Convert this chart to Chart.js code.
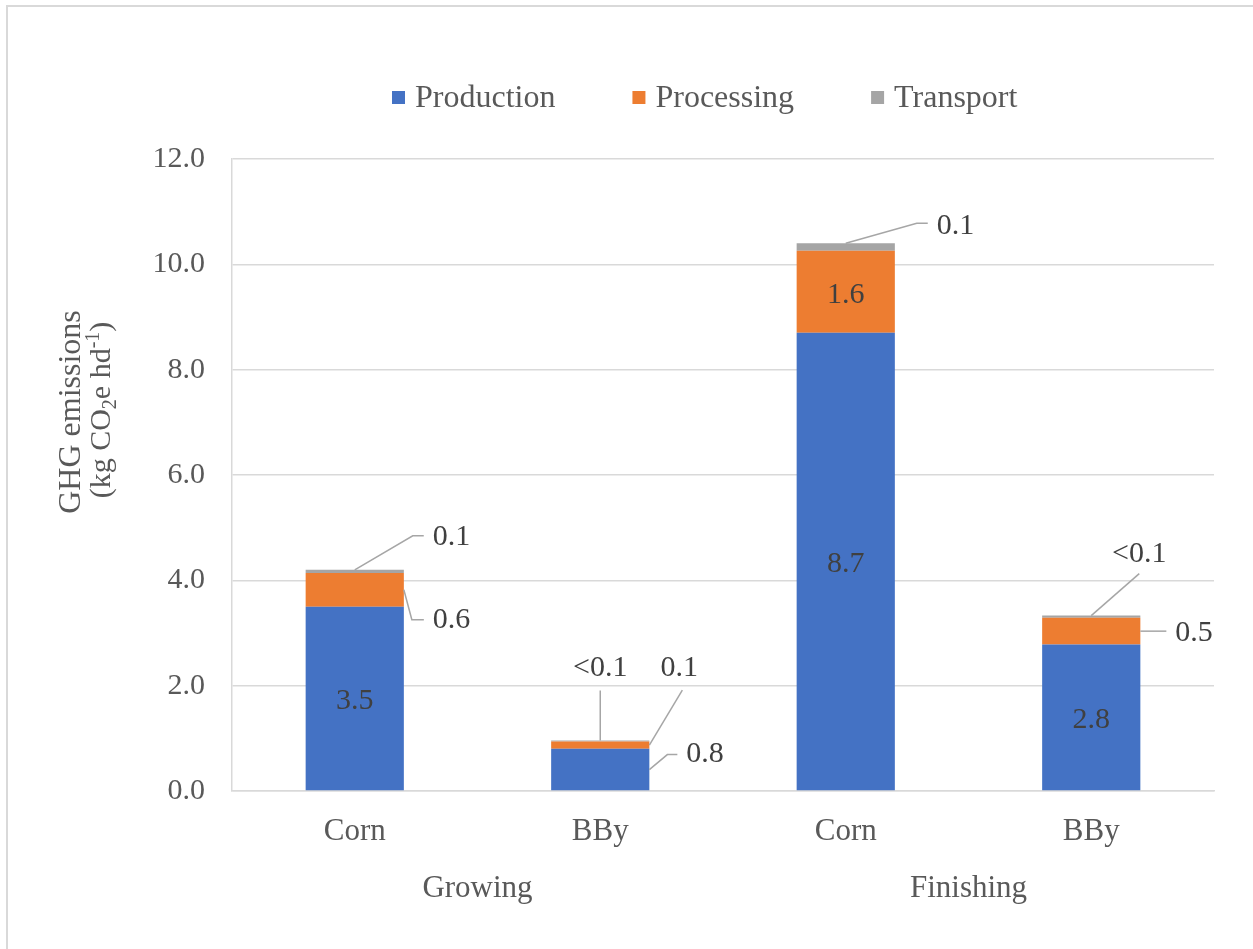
<!DOCTYPE html>
<html>
<head>
<meta charset="utf-8">
<script src="https://cdn.jsdelivr.net/npm/chart.js@4/dist/chart.umd.min.js"></script>
<style>
  html, body { margin: 0; padding: 0; background: #ffffff; }
  #wrap { width: 1253px; height: 949px; position: relative; }
</style>
</head>
<body>
<div id="wrap"><canvas id="chart" width="1253" height="949"></canvas></div>
<script>
// ---- data ----
const categories = ['Corn', 'BBy', 'Corn', 'BBy'];
const stages = ['Growing', 'Finishing'];          // each stage spans two categories
const seriesNames = ['Production', 'Processing', 'Transport'];
const production = [3.5, 0.8, 8.7, 2.78];
const processing = [0.64, 0.14, 1.56, 0.51];
const transport = [0.06, 0.02, 0.14, 0.04];
const yTickValues = [0, 2, 4, 6, 8, 10, 12];

// ---- styling ----
const SERIF = '"Liberation Serif", "Times New Roman", serif';
const colors = ['#4472C4', '#ED7D31', '#A5A5A5'];
const axisText = '#595959';
const labelText = '#404040';
const gridColor = '#d9d9d9';
const leaderColor = '#a6a6a6';

// Where each value label goes: 'center' sits inside its segment; otherwise a
// leader line runs from an anchor on the segment ('top' = top centre,
// 'right' = right edge middle) through the listed offsets to the text.
const labelPlacement = [
  // Production
  ['center',
   { anchor: 'right', path: [[18, -15], [28, -15]], text: [37, -15], align: 'left' },
   'center', 'center'],
  // Processing
  [{ anchor: 'right', path: [[8, 30], [20, 30]], text: [29, 30], align: 'left' },
   { anchor: 'right', path: [[33, -55]], text: [30, -77], align: 'center' },
   'center',
   { anchor: 'right', path: [[26, 0]], text: [35, 2], align: 'left' }],
  // Transport
  [{ anchor: 'top', path: [[58, -34], [69, -34]], text: [78, -33], align: 'left' },
   { anchor: 'top', path: [[0, -50]], text: [0, -72], align: 'center' },
   { anchor: 'top', path: [[71, -20], [82, -20]], text: [91, -17], align: 'left' },
   { anchor: 'top', path: [[48, -42]], text: [48, -61], align: 'center' }]
];

function formatValue(v) {
  return v < 0.05 ? '<0.1' : v.toFixed(1);
}

// Thin frame along the top and left of the figure
const framePlugin = {
  id: 'frame',
  beforeDraw(chart) {
    const ctx = chart.ctx;
    ctx.save();
    ctx.fillStyle = '#ffffff';
    ctx.fillRect(0, 0, chart.width, chart.height);
    ctx.strokeStyle = gridColor;
    ctx.lineWidth = 2;
    ctx.beginPath();
    ctx.moveTo(7, chart.height + 5);
    ctx.lineTo(7, 6);
    ctx.lineTo(chart.width + 5, 6);
    ctx.stroke();
    ctx.restore();
  }
};

// Legend row above the plot
const legendPlugin = {
  id: 'topLegend',
  afterDraw(chart) {
    const ctx = chart.ctx;
    ctx.save();
    ctx.font = '32px ' + SERIF;
    ctx.textBaseline = 'alphabetic';
    ctx.textAlign = 'left';
    let x = 392;
    chart.data.datasets.forEach((ds) => {
      ctx.fillStyle = ds.backgroundColor;
      ctx.fillRect(x, 91, 13, 13);
      ctx.fillStyle = axisText;
      ctx.fillText(ds.label, x + 23, 107);
      x += 23 + ctx.measureText(ds.label).width + 77;
    });
    ctx.restore();
  }
};

// Two-line vertical axis title with subscript / superscript
const yTitlePlugin = {
  id: 'yTitle',
  afterDraw(chart) {
    const ctx = chart.ctx;
    ctx.save();
    ctx.fillStyle = axisText;
    ctx.textBaseline = 'alphabetic';

    // line 1
    ctx.save();
    ctx.translate(80, 412);
    ctx.rotate(-Math.PI / 2);
    ctx.font = '32px ' + SERIF;
    ctx.textAlign = 'center';
    ctx.fillText('GHG emissions', 0, 0);
    ctx.restore();

    // line 2
    const parts = [
      { t: '(kg CO', size: 30, dy: 0 },
      { t: '2', size: 20, dy: 6 },
      { t: 'e hd', size: 30, dy: 0 },
      { t: '-1', size: 20, dy: -11 },
      { t: ')', size: 30, dy: 0 }
    ];
    let total = 0;
    parts.forEach(p => {
      ctx.font = p.size + 'px ' + SERIF;
      p.w = ctx.measureText(p.t).width;
      total += p.w;
    });
    ctx.save();
    ctx.translate(110, 410);
    ctx.rotate(-Math.PI / 2);
    ctx.textAlign = 'left';
    let x = -total / 2;
    parts.forEach(p => {
      ctx.font = p.size + 'px ' + SERIF;
      ctx.fillText(p.t, x, p.dy);
      x += p.w;
    });
    ctx.restore();
    ctx.restore();
  }
};

// Stage names below the category labels
const stagePlugin = {
  id: 'stages',
  afterDraw(chart) {
    const xs = chart.scales.x;
    const ctx = chart.ctx;
    ctx.save();
    ctx.font = '31px ' + SERIF;
    ctx.fillStyle = axisText;
    ctx.textAlign = 'center';
    ctx.textBaseline = 'middle';
    stages.forEach((name, g) => {
      const x = (xs.getPixelForValue(2 * g) + xs.getPixelForValue(2 * g + 1)) / 2;
      ctx.fillText(name, x, 889);
    });
    ctx.restore();
  }
};

// Value labels with leader lines
const valueLabelPlugin = {
  id: 'valueLabels',
  afterDatasetsDraw(chart) {
    const ctx = chart.ctx;
    ctx.save();
    ctx.font = '30px ' + SERIF;
    ctx.fillStyle = labelText;
    ctx.textBaseline = 'middle';
    chart.data.datasets.forEach((ds, di) => {
      const meta = chart.getDatasetMeta(di);
      meta.data.forEach((bar, i) => {
        const v = ds.data[i];
        const text = formatValue(v);
        const place = labelPlacement[di][i];
        const top = Math.min(bar.y, bar.base);
        const bottom = Math.max(bar.y, bar.base);
        if (place === 'center') {
          ctx.textAlign = 'center';
          ctx.fillText(text, bar.x, (top + bottom) / 2 + 3);
          return;
        }
        let ax, ay;
        if (place.anchor === 'top') {
          ax = bar.x; ay = top;
        } else {
          ax = bar.x + bar.width / 2; ay = (top + bottom) / 2;
        }
        ctx.strokeStyle = leaderColor;
        ctx.lineWidth = 1.5;
        ctx.beginPath();
        ctx.moveTo(ax, ay);
        place.path.forEach(([dx, dy]) => ctx.lineTo(ax + dx, ay + dy));
        ctx.stroke();
        ctx.textAlign = place.align;
        ctx.fillText(text, ax + place.text[0], ay + place.text[1]);
      });
    });
    ctx.restore();
  }
};

const seriesValues = [production, processing, transport];

new Chart(document.getElementById('chart'), {
  type: 'bar',
  data: {
    labels: categories,
    datasets: seriesNames.map((name, i) => ({
      label: name,
      data: seriesValues[i],
      backgroundColor: colors[i],
      borderWidth: 0,
      barPercentage: 0.4,
      categoryPercentage: 1.0
    }))
  },
  options: {
    responsive: false,
    animation: false,
    devicePixelRatio: 1,
    layout: { padding: { left: 0, top: 159, right: 39, bottom: 0 } },
    plugins: {
      legend: { display: false },
      tooltip: { enabled: false },
      title: { display: false }
    },
    scales: {
      x: {
        stacked: true,
        grid: { display: false, drawTicks: false },
        border: { display: true, color: gridColor, width: 1.5 },
        ticks: {
          color: axisText,
          font: { family: SERIF, size: 31 },
          padding: 22
        },
        afterFit(scale) { scale.height = 158; }
      },
      y: {
        stacked: true,
        min: yTickValues[0],
        max: yTickValues[yTickValues.length - 1],
        afterBuildTicks(scale) {
          scale.ticks = yTickValues.map(v => ({ value: v }));
        },
        grid: { color: gridColor, lineWidth: 1.5, drawTicks: false },
        border: { display: true, color: gridColor, width: 1.5 },
        ticks: {
          color: axisText,
          font: { family: SERIF, size: 30 },
          padding: 27,
          callback: (v) => Number(v).toFixed(1)
        },
        afterFit(scale) { scale.width = 232; }
      }
    }
  },
  plugins: [framePlugin, legendPlugin, yTitlePlugin, stagePlugin, valueLabelPlugin]
});
</script>
</body>
</html>
